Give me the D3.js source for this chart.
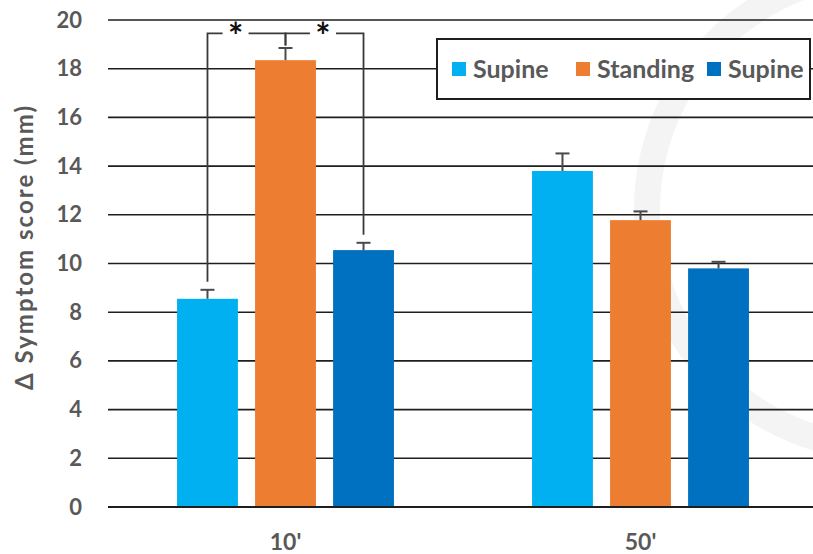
<!DOCTYPE html>
<html>
<head>
<meta charset="utf-8">
<script src="https://cdn.jsdelivr.net/npm/d3@7"></script>
<style>
  html, body { margin: 0; padding: 0; background: #fff; }
  svg { display: block; }
  text { font-family: Lato, "Open Sans", sans-serif; font-weight: 700; }
</style>
</head>
<body>
<svg id="chart" width="813" height="554"></svg>
<script>
// Time points and positions
const categories = ["10'", "50'"];
const seriesNames = ["Supine", "Standing", "Supine"];
const seriesColors = ["#00B0F0", "#ED7D31", "#0070C0"];

// Mean change in symptom score (mm) and error (upper bar), per time point
const means10 = [8.55, 18.35, 10.55];
const means50 = [13.8, 11.78, 9.8];
const errors10 = [0.37, 0.5, 0.3];
const errors50 = [0.72, 0.36, 0.27];

const yTicks = [0, 2, 4, 6, 8, 10, 12, 14, 16, 18, 20];

// Significance brackets at 10': [from series, to series, label]
const sigPairs = [[0, 1, "*"], [1, 2, "*"]];
const bracketLevel = 19.45;

const data = categories.map((c, i) => ({
  category: c,
  values: (i === 0 ? means10 : means50).map((v, j) => ({
    series: j, value: v, err: (i === 0 ? errors10 : errors50)[j]
  }))
}));

const svg = d3.select("#chart");
const W = 813, H = 554;
const textGray = "#595959";
const lineColor = "#1e1e1e";

const y = d3.scaleLinear().domain([0, 20]).range([507, 20]);
const x0 = d3.scaleBand().domain(categories).range([108, 818]).padding(0);
const x1 = d3.scaleBand().domain(d3.range(seriesNames.length))
  .range([0, x0.bandwidth()]).paddingInner(0.22).paddingOuter(0.885);

// faint background arc
svg.append("circle")
  .attr("cx", 885).attr("cy", 210).attr("r", 238)
  .attr("fill", "none").attr("stroke", "#f4f4f4").attr("stroke-width", 26);

// gridlines + y labels
const yAxis = d3.axisLeft(y).tickValues(yTicks).tickSize(0).tickPadding(26);
const gy = svg.append("g").attr("transform", "translate(108,0)").call(yAxis);
gy.select(".domain").remove();
gy.selectAll("text").attr("fill", textGray).attr("font-size", 22)
  .attr("font-family", "Lato, sans-serif").attr("font-weight", 700);

svg.append("g").selectAll("line").data(yTicks).join("line")
  .attr("x1", 108).attr("x2", W)
  .attr("y1", d => y(d)).attr("y2", d => y(d))
  .attr("stroke", lineColor).attr("stroke-width", 1.6);

// y-axis title
svg.append("text")
  .attr("transform", `translate(33,248) rotate(-90)`)
  .attr("text-anchor", "middle")
  .attr("fill", textGray).attr("font-size", 24)
  .attr("textLength", 284).attr("lengthAdjust", "spacing")
  .text("\u0394 Symptom score (mm)");

// bars
const groups = svg.append("g").selectAll("g").data(data).join("g")
  .attr("transform", d => `translate(${x0(d.category)},0)`);

groups.selectAll("rect").data(d => d.values).join("rect")
  .attr("x", d => x1(d.series))
  .attr("width", x1.bandwidth())
  .attr("y", d => y(d.value))
  .attr("height", d => y(0) - y(d.value))
  .attr("fill", d => seriesColors[d.series]);

// error bars (upper)
const errColor = "#4a4a4a";
groups.selectAll("g.err").data(d => d.values).join("g").attr("class", "err")
  .each(function(d) {
    const g = d3.select(this);
    const cx = x1(d.series) + x1.bandwidth() / 2;
    g.append("line").attr("x1", cx).attr("x2", cx)
      .attr("y1", y(d.value)).attr("y2", y(d.value + d.err))
      .attr("stroke", errColor).attr("stroke-width", 2);
    g.append("line").attr("x1", cx - 7).attr("x2", cx + 7)
      .attr("y1", y(d.value + d.err)).attr("y2", y(d.value + d.err))
      .attr("stroke", errColor).attr("stroke-width", 2);
  });

// x-axis baseline and labels
svg.append("line").attr("x1", 108).attr("x2", W)
  .attr("y1", y(0)).attr("y2", y(0))
  .attr("stroke", lineColor).attr("stroke-width", 1.8);

svg.append("g").selectAll("text").data(categories).join("text")
  .attr("x", d => x0(d) + x0.bandwidth() / 2)
  .attr("y", 550)
  .attr("text-anchor", "middle")
  .attr("fill", textGray).attr("font-size", 23)
  .text(d => d);

// significance brackets at 10'
const first = data[0];
const barCenter = j => x0(first.category) + x1(j) + x1.bandwidth() / 2;
const topOf = j => first.values[j].value + first.values[j].err;
const legGap = j => (j === 1 ? 0.1 : 0.33);
const bracketColor = "#3a3a3a";
const by = y(bracketLevel);
const starFrac = [0.36, 0.48];
sigPairs.forEach(([a, b, label], k) => {
  const xa = barCenter(a), xb = barCenter(b);
  const ya = y(topOf(a) + legGap(a)), yb = y(topOf(b) + legGap(b));
  const sx = xa + (xb - xa) * starFrac[k];
  const gap = 13;
  const g = svg.append("g").attr("fill", "none")
    .attr("stroke", bracketColor).attr("stroke-width", 1.8);
  g.append("path").attr("d", `M${xa},${ya}V${by}H${sx - gap}`);
  g.append("path").attr("d", `M${sx + gap},${by}H${xb}V${yb}`);
  svg.append("text")
    .attr("x", sx).attr("y", by + 16)
    .attr("text-anchor", "middle")
    .attr("fill", "#111").attr("font-size", 36)
    .attr("font-family", "DejaVu Sans, sans-serif")
    .text(label);
});

// legend
const legend = svg.append("g");
legend.append("rect")
  .attr("x", 437).attr("y", 39).attr("width", 373).attr("height", 60)
  .attr("fill", "#fff").attr("stroke", "#1e1e1e").attr("stroke-width", 2);
const legendX = [452, 576, 707];
seriesNames.forEach((name, i) => {
  legend.append("rect")
    .attr("x", legendX[i]).attr("y", 62).attr("width", 14).attr("height", 14)
    .attr("fill", seriesColors[i]);
  legend.append("text")
    .attr("x", legendX[i] + 21).attr("y", 78)
    .attr("fill", textGray).attr("font-size", 25)
    .text(name);
});
</script>
</body>
</html>
